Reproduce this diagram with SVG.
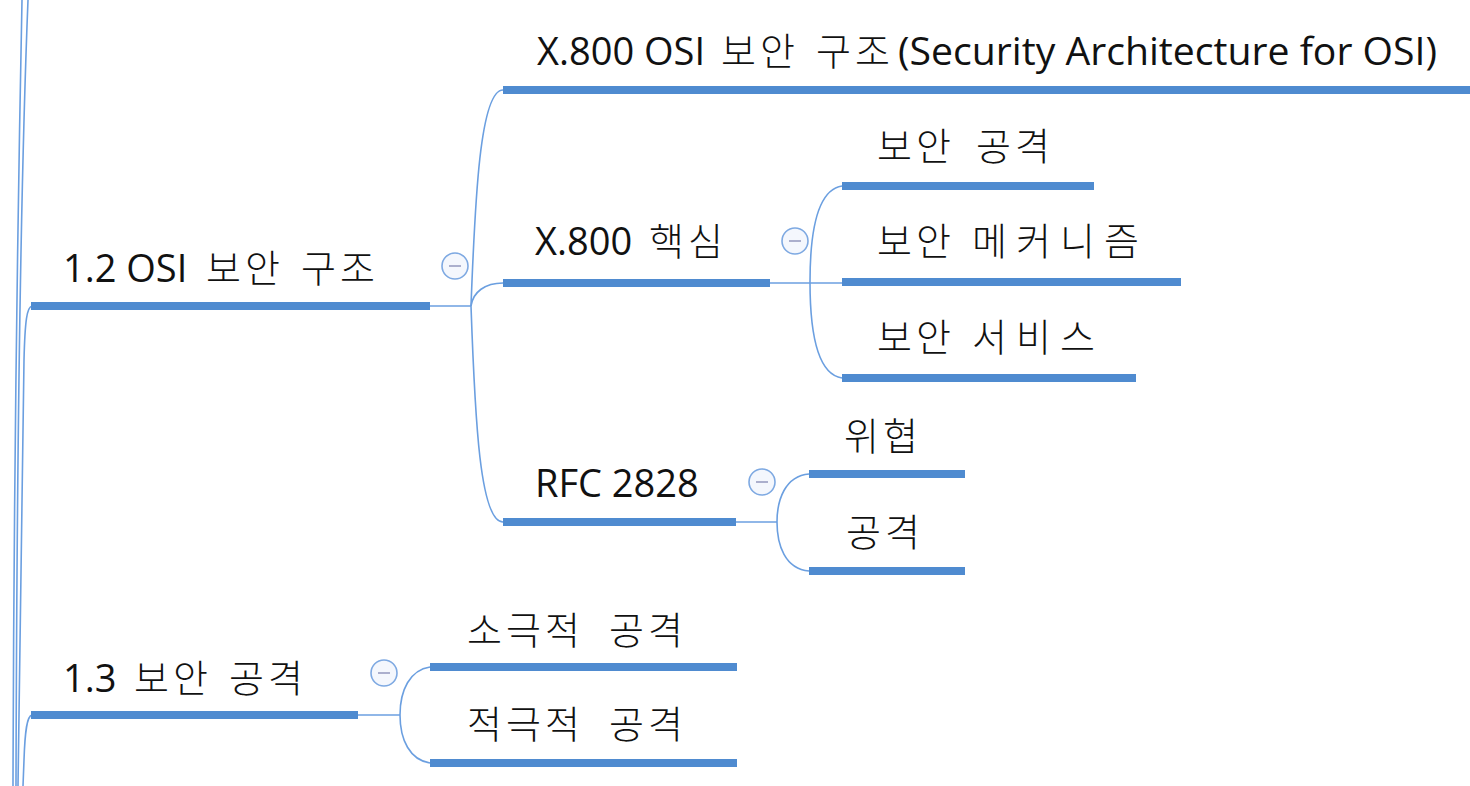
<svg xmlns="http://www.w3.org/2000/svg" width="1470" height="786" viewBox="0 0 1470 786">
<style>
.lat{font-family:"Open Sans","Noto Sans CJK KR",sans-serif;font-size:38px;fill:#111}
.ko{font-family:"Noto Sans CJK KR","Noto Sans",sans-serif;font-size:38px;font-weight:300;letter-spacing:4px;fill:#111}
.ko.w9{letter-spacing:9px}
.bar{stroke:#4f8bd0;stroke-width:8;stroke-linecap:butt;fill:none}
.con{stroke:#6b9fe0;stroke-width:1.6;fill:none}
.tog circle{fill:#f4f7fd;stroke:#7ea9e2;stroke-width:1.6}
.tog line{stroke:#8c90b8;stroke-width:1.4}
</style>
<rect width="1470" height="786" fill="#ffffff"/>
<g id="connectors">
<path class="con" d="M22 0 C19 150 14 400 13 786"/>
<path class="con" d="M28 0 C22 150 17 400 16 786"/>
<path class="con" d="M32 306 C27 307 25 320 24 360 L18 786"/>
<path class="con" d="M32 715 C27 716 25 730 24 760 L23 786"/>
<path class="con" d="M430 306 H471"/>
<path class="con" d="M471 306 C475 200 480 90 503 90"/>
<path class="con" d="M471 306 C473 292 485 283 503 283"/>
<path class="con" d="M471 306 C475 420 480 522 503 522"/>
<path class="con" d="M770 283 H842"/>
<path class="con" d="M842 186 C815 190 810 240 810 282 C810 325 815 374 842 378"/>
<path class="con" d="M736 522 H777"/>
<path class="con" d="M809 474 C785 476 777 500 777 522 C777 545 785 569 809 571"/>
<path class="con" d="M358 715 H400"/>
<path class="con" d="M430 667 C410 670 400 690 400 715 C400 740 410 760 430 763"/>
</g>
<g id="n12">
<line class="bar" x1="31" y1="306" x2="430" y2="306"/>
<text y="282"><tspan class="lat" x="63">1.2 OSI</tspan><tspan class="ko" x="206">보안</tspan><tspan class="ko" x="301">구조</tspan></text>
<g class="tog"><circle cx="455" cy="266" r="13"/><line x1="449" y1="266" x2="461" y2="266"/></g>
</g>
<g id="nx800osi">
<line class="bar" x1="503" y1="90" x2="1470" y2="90"/>
<text y="65"><tspan class="lat" x="537">X.800 OSI</tspan><tspan class="ko" x="721">보안</tspan><tspan class="ko" x="816">구조</tspan><tspan class="lat" x="898" textLength="539" lengthAdjust="spacingAndGlyphs">(Security Architecture for OSI)</tspan></text>
</g>
<g id="nx800core">
<line class="bar" x1="503" y1="283" x2="770" y2="283"/>
<text y="255"><tspan class="lat" x="535">X.800</tspan><tspan class="ko" x="649">핵심</tspan></text>
<g class="tog"><circle cx="795" cy="241" r="13"/><line x1="789" y1="241" x2="801" y2="241"/></g>
</g>
<g id="nrfc">
<line class="bar" x1="503" y1="522" x2="736" y2="522"/>
<text class="lat" x="535" y="497">RFC 2828</text>
<g class="tog"><circle cx="762" cy="482" r="13"/><line x1="756" y1="482" x2="768" y2="482"/></g>
</g>
<g id="nattack">
<line class="bar" x1="842" y1="186" x2="1094" y2="186"/>
<text y="160"><tspan class="ko" x="877">보안</tspan><tspan class="ko" x="976">공격</tspan></text>
</g>
<g id="nmech">
<line class="bar" x1="842" y1="282" x2="1181" y2="282"/>
<text y="255"><tspan class="ko" x="877">보안</tspan><tspan class="ko w9" x="972">메커니즘</tspan></text>
</g>
<g id="nservice">
<line class="bar" x1="842" y1="378" x2="1136" y2="378"/>
<text y="351"><tspan class="ko" x="877">보안</tspan><tspan class="ko w9" x="972">서비스</tspan></text>
</g>
<g id="nthreat">
<line class="bar" x1="809" y1="474" x2="965" y2="474"/>
<text class="ko" x="844" y="450">위협</text>
</g>
<g id="nrfcattack">
<line class="bar" x1="809" y1="571" x2="965" y2="571"/>
<text class="ko" x="846" y="546">공격</text>
</g>
<g id="n13">
<line class="bar" x1="31" y1="715" x2="358" y2="715"/>
<text y="692"><tspan class="lat" x="63">1.3</tspan><tspan class="ko" x="134">보안</tspan><tspan class="ko" x="229">공격</tspan></text>
<g class="tog"><circle cx="384" cy="673" r="13"/><line x1="378" y1="673" x2="390" y2="673"/></g>
</g>
<g id="npassive">
<line class="bar" x1="430" y1="667" x2="737" y2="667"/>
<text y="644"><tspan class="ko" x="467">소극적</tspan><tspan class="ko" x="609">공격</tspan></text>
</g>
<g id="nactive">
<line class="bar" x1="430" y1="763" x2="737" y2="763"/>
<text y="738"><tspan class="ko" x="467">적극적</tspan><tspan class="ko" x="609">공격</tspan></text>
</g>
</svg>
